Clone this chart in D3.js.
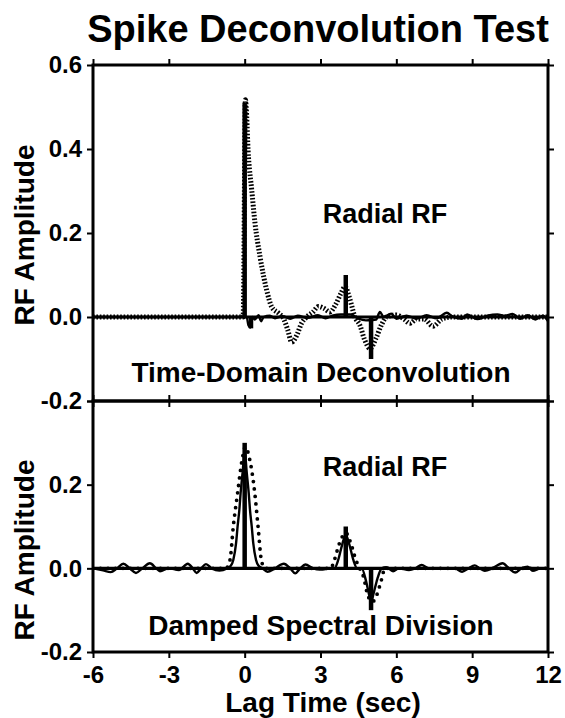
<!DOCTYPE html>
<html><head><meta charset="utf-8">
<script src="https://cdn.jsdelivr.net/npm/d3@7"></script>
<style>
html,body{margin:0;padding:0;background:#fff;}
svg text{font-family:"Liberation Sans",Arial,Helvetica,sans-serif;font-weight:bold;fill:#000;}
</style></head>
<body>
<svg id="chart" width="565" height="718"></svg>
<script>
// ---------------- DATA ----------------
const xTicks = [-6, -3, 0, 3, 6, 9, 12];
const xTickLabels = ["-6", "-3", "0", "3", "6", "9", "12"];
const yTicksTop = [-0.2, 0.0, 0.2, 0.4, 0.6];
const yTickLabelsTop = ["-0.2", "0.0", "0.2", "0.4", "0.6"];
const yTicksBot = [-0.2, 0.0, 0.2, 0.4];
const yTickLabelsBot = ["-0.2", "0.0", "0.2", ""];

// Top panel: time-domain deconvolution spikes
const tdSpikeT = [0, 0.25, 4, 5];
const tdSpikeV = [0.51, -0.027, 0.10, -0.10];
// Top panel: solid deconvolution trace (small noise)
const tdSolidT = [-6, -0.1, 0.08, 0.15, 0.22, 0.3, 0.4, 0.55, 0.65, 0.75, 1.0, 1.2, 1.5, 1.8, 2.1, 2.5, 2.9, 3.2, 3.5, 3.8, 4.2, 4.5, 4.8, 5.2, 5.35, 5.5, 5.8, 6.0, 6.4, 6.8, 7.2, 7.6, 8.0, 8.2, 8.6, 8.8, 9.2, 9.6, 10.0, 10.3, 10.6, 10.9, 11.2, 11.5, 11.8, 12];
const tdSolidV = [0, 0, 0, -0.02, -0.025, 0, -0.006, 0.004, -0.01, 0, 0.003, -0.003, 0.002, -0.004, 0.003, -0.002, 0.004, -0.003, 0.004, 0.006, 0.006, -0.004, -0.008, -0.006, 0.012, 0, 0.008, -0.004, 0.003, -0.004, 0.004, -0.003, 0.01, 0.002, -0.004, 0.006, -0.005, 0.003, 0.006, 0.003, 0.007, -0.004, 0.004, -0.006, 0.003, -0.01];
// Top panel: dotted radial trace
const tdDotT = [-6, -0.06, 0.03, 0.15, 0.28, 0.41, 0.61, 0.87, 1.07, 1.34, 1.55, 1.7, 1.86, 2.05, 2.25, 2.45, 2.7, 2.92, 3.15, 3.37, 3.6, 3.8, 3.97, 4.15, 4.36, 4.56, 4.75, 4.96, 5.2, 5.4, 5.62, 6.0, 6.3, 6.54, 6.8, 7.1, 7.45, 7.8, 8.2, 9, 12];
const tdDotV = [0, 0, 0.517, 0.381, 0.302, 0.223, 0.143, 0.064, 0.024, 0.009, -0.005, -0.03, -0.06, -0.045, -0.015, 0.0, 0.012, 0.025, 0.02, 0.012, 0.03, 0.055, 0.072, 0.045, 0.0, -0.02, -0.055, -0.075, -0.05, -0.02, 0.0, 0.005, -0.005, -0.015, -0.005, -0.005, -0.022, -0.005, 0, 0, 0];

// Bottom panel: spikes
const dsSpikeT = [0, 4, 5];
const dsSpikeV = [0.30, 0.10, -0.10];
// Bottom panel: solid damped spectral division trace
const dsSolidT = [-6, -5.6, -5.3, -5.05, -4.8, -4.55, -4.3, -4.05, -3.75, -3.5, -3.35, -3.0, -2.6, -2.25, -2.05, -1.9, -1.72, -1.53, -1.3, -1.0, -0.7, -0.55, -0.45, -0.34, -0.28, -0.21, -0.16, -0.08, 0, 0.08, 0.16, 0.21, 0.28, 0.34, 0.45, 0.55, 0.7, 0.9, 1.2, 1.55, 1.8, 2.0, 2.2, 2.4, 2.7, 3.0, 3.4, 3.55, 3.7, 3.85, 4.0, 4.15, 4.3, 4.45, 4.63, 4.8, 4.95, 5.0, 5.1, 5.25, 5.42, 5.6, 5.87, 6.1, 6.5, 6.75, 7.0, 7.3, 7.8, 8.3, 8.6, 8.85, 9.1, 9.3, 9.5, 9.8, 10.2, 10.45, 10.7, 10.95, 11.2, 11.4, 11.7, 12];
const dsSolidV = [0, -0.005, -0.009, 0, 0.011, 0, -0.011, 0, 0.012, 0, -0.007, 0, -0.004, 0.011, 0, -0.011, 0, 0.01, 0, -0.005, 0, 0.006, 0.02, 0.06, 0.10, 0.14, 0.18, 0.23, 0.28, 0.23, 0.18, 0.14, 0.10, 0.06, 0.02, 0.006, 0, -0.008, 0, 0.011, 0, -0.012, 0, 0.009, 0, -0.003, 0, 0, 0.02, 0.055, 0.08, 0.055, 0.02, 0, 0, -0.03, -0.07, -0.08, -0.06, -0.025, 0, 0.003, -0.007, 0, -0.004, 0, 0.008, 0, 0, 0, -0.008, 0, 0.007, 0, -0.006, 0, 0.012, 0, -0.01, 0, 0.004, -0.006, 0, 0];
// Bottom panel: dotted trace
const dsDotT = [-6, -0.75, -0.58, -0.45, -0.28, -0.1, 0.03, 0.2, 0.4, 0.53, 0.66, 0.8, 3.4, 3.55, 3.75, 4.0, 4.2, 4.4, 4.55, 4.7, 4.85, 5.05, 5.25, 5.4, 5.55, 12];
const dsDotV = [0, 0, 0.02, 0.10, 0.18, 0.26, 0.29, 0.26, 0.18, 0.10, 0.02, 0, 0, 0.02, 0.06, 0.085, 0.06, 0.02, 0, -0.02, -0.06, -0.08, -0.06, -0.03, 0, 0];

const panelTitles = ["Radial RF", "Radial RF"];
const panelLabels = ["Time-Domain Deconvolution", "Damped Spectral Division"];

// ---------------- DRAW ----------------
const svg = d3.select("#chart");
const x = d3.scaleLinear().domain([-6, 12]).range([93, 548]);
const yTop = d3.scaleLinear().domain([-0.2, 0.6]).range([401, 65]);
const yBot = d3.scaleLinear().domain([-0.2, 0.4]).range([652, 401]);

svg.append("text").attr("x", 318).attr("y", 42).attr("text-anchor", "middle")
  .style("font-size", "38px").text("Spike Deconvolution Test");

function zip(t, v) { return t.map((d, i) => [d, v[i]]); }

function panel(idx, y, yTicks, yLabels, spikeT, spikeV, solidT, solidV, dotT, dotV, dotStyle, labelY, titleY, noteY) {
  const g = svg.append("g");
  const [x0, x1] = x.range();
  const [yb, yt] = y.range();
  const cid = "clip" + idx;
  svg.append("clipPath").attr("id", cid).append("rect")
    .attr("x", x0).attr("y", yt).attr("width", x1 - x0).attr("height", yb - yt);

  const plot = g.append("g").attr("clip-path", `url(#${cid})`);
  const line = d3.line().x(d => x(d[0])).y(d => y(d[1])).curve(d3.curveMonotoneX);

  // dotted trace
  const dp = plot.append("path").datum(zip(dotT, dotV)).attr("d", line)
    .attr("fill", "none").attr("stroke", "#000");
  if (dotStyle === "dash") {
    dp.attr("stroke-width", 5).attr("stroke-dasharray", "1.6,1.8");
  } else {
    dp.attr("stroke-width", 3.8).attr("stroke-linecap", "round").attr("stroke-dasharray", "0,7.5");
  }
  // zero line
  plot.append("line").attr("x1", x0).attr("x2", x1).attr("y1", y(0)).attr("y2", y(0))
    .attr("stroke", "#000").attr("stroke-width", 3.2);
  // solid trace
  plot.append("path").datum(zip(solidT, solidV)).attr("d", line)
    .attr("fill", "none").attr("stroke", "#000").attr("stroke-width", 2.4);
  // spikes
  plot.selectAll("line.spike").data(zip(spikeT, spikeV)).enter().append("line")
    .attr("class", "spike")
    .attr("x1", d => x(d[0])).attr("x2", d => x(d[0]))
    .attr("y1", y(0)).attr("y2", d => y(d[1]))
    .attr("stroke", "#000").attr("stroke-width", 4.5);

  // axes
  const fmtX = (d) => xTickLabels[xTicks.indexOf(d)];
  const fmtY = (d) => yLabels[yTicks.indexOf(d)];
  const axT = g.append("g").attr("transform", `translate(0,${yt})`)
    .call(d3.axisTop(x).tickValues(xTicks).tickSize(6).tickFormat(""));
  const axB = g.append("g").attr("transform", `translate(0,${yb})`)
    .call(d3.axisBottom(x).tickValues(xTicks).tickSize(6).tickPadding(5)
      .tickFormat(idx === 1 ? fmtX : ""));
  const axL = g.append("g").attr("transform", `translate(${x0},0)`)
    .call(d3.axisLeft(y).tickValues(yTicks).tickSize(6).tickPadding(5).tickFormat(fmtY));
  const axR = g.append("g").attr("transform", `translate(${x1},0)`)
    .call(d3.axisRight(y).tickValues(yTicks).tickSize(6).tickFormat(""));
  [axT, axB, axL, axR].forEach(a => {
    a.select(".domain").remove();
    a.selectAll(".tick line").attr("stroke", "#000").attr("stroke-width", 2);
    a.selectAll("text").style("font-size", "24px").style("font-family", "Liberation Sans, Arial, sans-serif")
      .style("font-weight", "bold").attr("fill", "#000");
  });
  axB.selectAll("text").attr("dy", "0.85em");

  // border
  g.append("rect").attr("x", x0).attr("y", yt).attr("width", x1 - x0).attr("height", yb - yt)
    .attr("fill", "none").attr("stroke", "#000").attr("stroke-width", 3);

  // texts
  g.append("text").attr("x", 385).attr("y", titleY).attr("text-anchor", "middle")
    .style("font-size", "27px").text(panelTitles[idx]);
  g.append("text").attr("x", 321).attr("y", noteY).attr("text-anchor", "middle")
    .style("font-size", "28px").text(panelLabels[idx]);
  g.append("text").attr("transform", `translate(34,${labelY}) rotate(-90)`).attr("text-anchor", "middle")
    .style("font-size", "28px").text("RF Amplitude");
}

panel(0, yTop, yTicksTop, yTickLabelsTop, tdSpikeT, tdSpikeV, tdSolidT, tdSolidV, tdDotT, tdDotV, "dash", 235, 223, 382);
panel(1, yBot, yTicksBot, yTickLabelsBot, dsSpikeT, dsSpikeV, dsSolidT, dsSolidV, dsDotT, dsDotV, "dot", 550, 476, 635);

svg.append("text").attr("x", 323).attr("y", 712).attr("text-anchor", "middle")
  .style("font-size", "28px").text("Lag Time (sec)");
</script>
</body></html>
